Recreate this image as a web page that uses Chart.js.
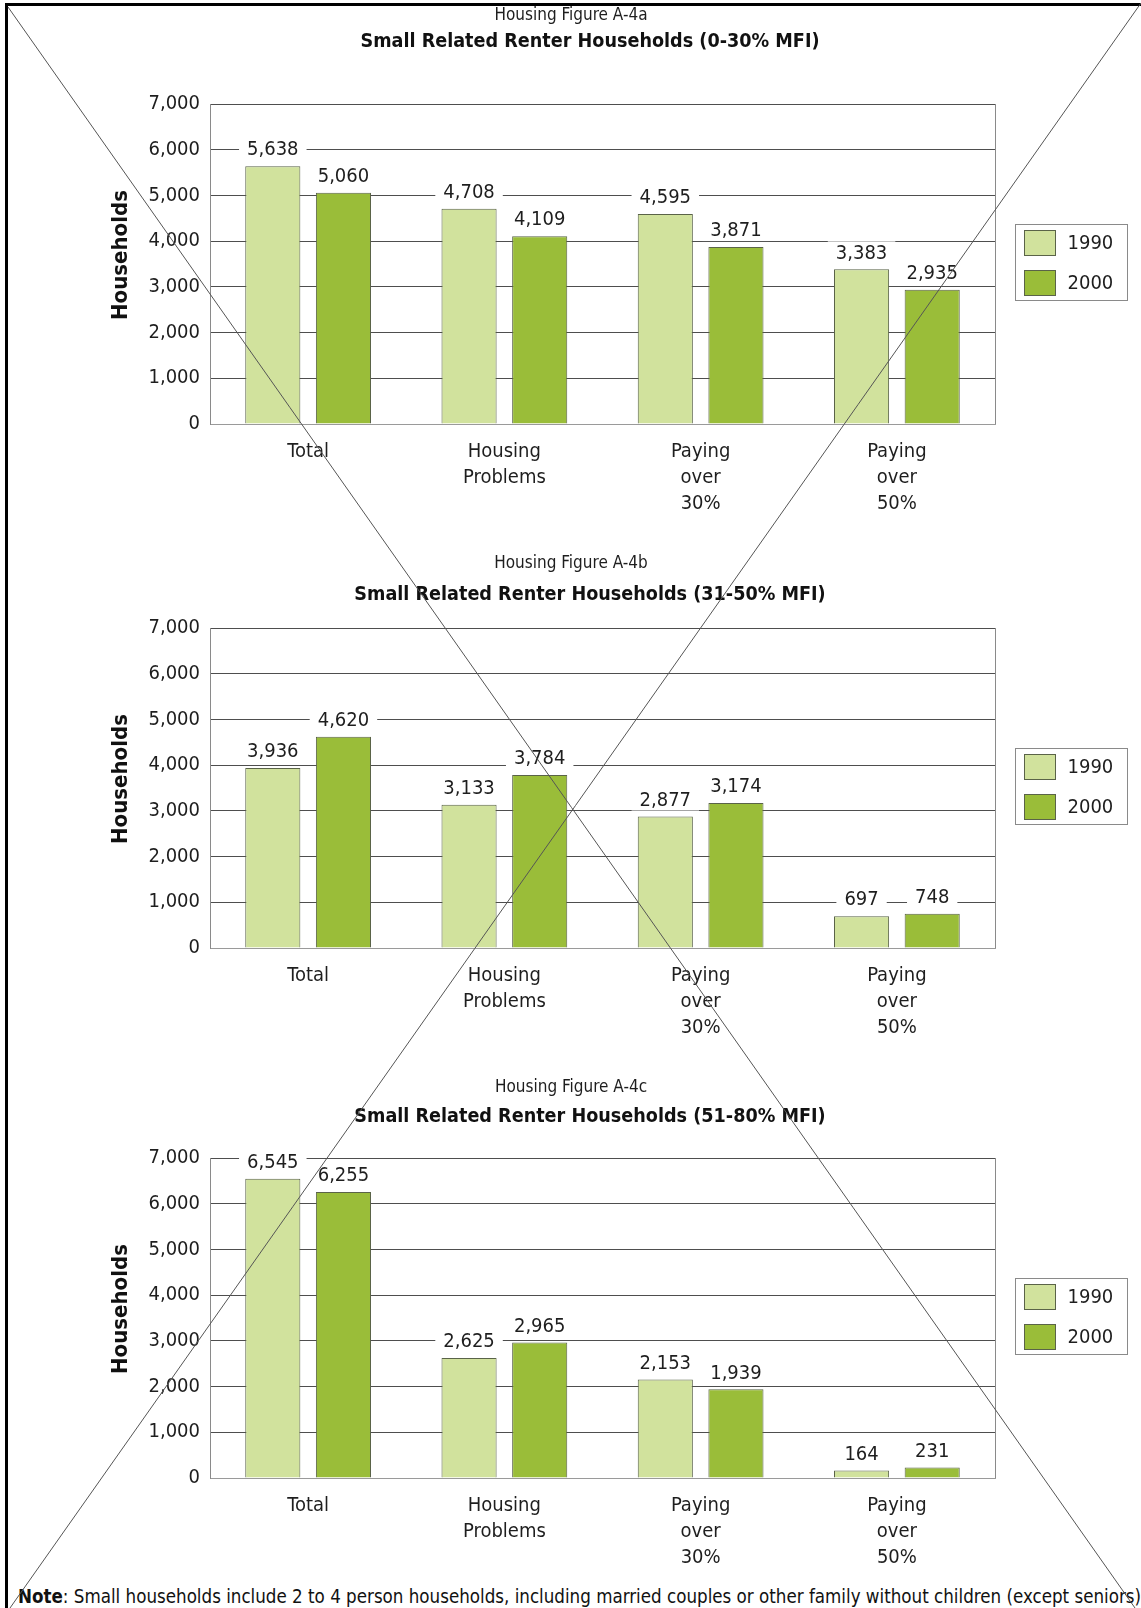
<!DOCTYPE html>
<html>
<head>
<meta charset="utf-8">
<script src="https://cdn.jsdelivr.net/npm/chart.js@4.4.1/dist/chart.umd.min.js"></script>
<style>
  html, body { margin: 0; padding: 0; background: #fff; }
  body { width: 1141px; height: 1608px; position: relative; overflow: hidden;
         font-family: 'DejaVu Sans Condensed', 'DejaVu Sans', sans-serif; }
  canvas.chart { position: absolute; left: 0; }
  #note { position: absolute; left: 18px; top: 1585px; font-size: 18.6px; color: #111; white-space: nowrap; line-height: 24px; }
  #overlay { position: absolute; left: 0; top: 0; pointer-events: none; }
</style>
</head>
<body>
<canvas class="chart" id="chartA" width="1141" height="524" style="top:0px"></canvas>
<canvas class="chart" id="chartB" width="1141" height="524" style="top:524px"></canvas>
<canvas class="chart" id="chartC" width="1141" height="524" style="top:1054px"></canvas>
<div id="note"><b>Note</b>: Small households include 2 to 4 person households, including married couples or other family without children (except seniors)</div>
<canvas id="overlay" width="1141" height="1608"></canvas>
<script>
// ---- data ----
const categories = [['Total'], ['Housing', 'Problems'], ['Paying', 'over', '30%'], ['Paying', 'over', '50%']];
const seriesNames = ['1990', '2000'];

const figureNames = ['Housing Figure A-4a', 'Housing Figure A-4b', 'Housing Figure A-4c'];
const chartTitles = [
  'Small Related Renter Households (0-30% MFI)',
  'Small Related Renter Households (31-50% MFI)',
  'Small Related Renter Households (51-80% MFI)'
];

const incomeA1990 = [5638, 4708, 4595, 3383];
const incomeA2000 = [5060, 4109, 3871, 2935];
const incomeB1990 = [3936, 3133, 2877, 697];
const incomeB2000 = [4620, 3784, 3174, 748];
const incomeC1990 = [6545, 2625, 2153, 164];
const incomeC2000 = [6255, 2965, 1939, 231];

const yMin = 0, yMax = 7000, yStep = 1000;
const yAxisTitle = 'Households';

// ---- styling ----
const FONT = "'DejaVu Sans Condensed', 'DejaVu Sans', sans-serif";
const TEXT = '#1e1e1e';
const LIGHT = '#d1e29d';
const DARK = '#9abd39';
const BAR_EDGE = '#5a6348';
const GRID = '#4e4e4e';
const FRAME = '#8a8a8a';
const BASE = '#9a9a9a';

// vertical centres of the two heading lines in each chart canvas
const headingY = [[16, 42], [40, 71], [34, 63]];
const headingX = [571, 590];

Chart.defaults.font.family = FONT;
Chart.defaults.color = TEXT;

// two-line heading: figure number, then the bold chart title
const headings = {
  id: 'headings',
  afterDraw(chart, args, opts) {
    const ctx = chart.ctx;
    ctx.save();
    ctx.textAlign = 'center';
    ctx.textBaseline = 'middle';
    ctx.fillStyle = TEXT;
    ctx.font = '17px ' + FONT;
    ctx.fillText(opts.figure, headingX[0], opts.y[0]);
    ctx.fillStyle = '#111';
    ctx.font = 'bold 19.6px ' + FONT;
    ctx.fillText(opts.title, headingX[1], opts.y[1]);
    // rotated axis title, a little above the middle of the plot
    const a = chart.chartArea;
    ctx.translate(121, (a.top + a.bottom) / 2 - 9);
    ctx.rotate(-Math.PI / 2);
    ctx.font = 'bold 22px ' + FONT;
    ctx.fillText(yAxisTitle, 0, 0);
    ctx.restore();
  }
};

// value labels sitting on a white patch above each bar
const valueLabels = {
  id: 'valueLabels',
  afterDatasetsDraw(chart) {
    const ctx = chart.ctx;
    ctx.save();
    ctx.font = '20px ' + FONT;
    ctx.textAlign = 'center';
    ctx.textBaseline = 'middle';
    chart.data.datasets.forEach((ds, i) => {
      chart.getDatasetMeta(i).data.forEach((bar, j) => {
        const txt = ds.data[j].toLocaleString('en-US');
        const w = ctx.measureText(txt).width;
        const cy = bar.y - 17;
        ctx.fillStyle = '#fff';
        ctx.fillRect(bar.x - w / 2 - 8, cy - 11, w + 16, 22);
        ctx.fillStyle = TEXT;
        ctx.fillText(txt, bar.x, cy + 1);
      });
    });
    ctx.restore();
  }
};

// right edge of the plot frame
const plotFrame = {
  id: 'plotFrame',
  beforeDatasetsDraw(chart) {
    const { ctx, chartArea: a } = chart;
    ctx.save();
    ctx.strokeStyle = FRAME;
    ctx.lineWidth = 1;
    ctx.beginPath();
    ctx.moveTo(Math.round(a.right) + 0.5, a.top);
    ctx.lineTo(Math.round(a.right) + 0.5, a.bottom);
    ctx.stroke();
    ctx.restore();
  }
};

// boxed legend to the right of the plot
const boxLegend = {
  id: 'boxLegend',
  afterDraw(chart) {
    const { ctx, chartArea: a } = chart;
    const bx = Math.round(a.right) + 20.5, bw = 112, bh = 76;
    const by = Math.round((a.top + a.bottom) / 2 - bh / 2) - 1.5;
    ctx.save();
    ctx.fillStyle = '#fff';
    ctx.fillRect(bx, by, bw, bh);
    ctx.strokeStyle = FRAME;
    ctx.lineWidth = 1;
    ctx.strokeRect(bx, by, bw, bh);
    ctx.font = '20px ' + FONT;
    ctx.textBaseline = 'middle';
    ctx.textAlign = 'left';
    chart.data.datasets.forEach((ds, i) => {
      const sy = by + 6 + i * 40;
      ctx.fillStyle = ds.backgroundColor;
      ctx.fillRect(bx + 9, sy, 31, 25);
      ctx.strokeStyle = BAR_EDGE;
      ctx.strokeRect(bx + 9, sy, 31, 25);
      ctx.fillStyle = TEXT;
      ctx.fillText(ds.label, bx + 52, sy + 13);
    });
    ctx.restore();
  }
};

function makeChart(id, idx, v1990, v2000) {
  return new Chart(document.getElementById(id), {
    type: 'bar',
    data: {
      labels: categories,
      datasets: [
        { label: seriesNames[0], data: v1990, backgroundColor: LIGHT, borderColor: BAR_EDGE, borderWidth: 1 },
        { label: seriesNames[1], data: v2000, backgroundColor: DARK, borderColor: BAR_EDGE, borderWidth: 1 }
      ]
    },
    options: {
      responsive: false,
      animation: false,
      events: [],
      categoryPercentage: 0.72,
      barPercentage: 0.78,
      layout: { padding: { left: 0, right: 146, top: 104, bottom: 0 } },
      plugins: {
        legend: { display: false },
        tooltip: { enabled: false },
        headings: { figure: figureNames[idx], title: chartTitles[idx], y: headingY[idx] }
      },
      scales: {
        x: {
          grid: { display: false, drawTicks: false },
          border: { display: true, color: BASE },
          ticks: { font: { size: 20, lineHeight: 1.3 }, color: TEXT, padding: 15, maxRotation: 0 },
          afterFit(scale) { scale.height = 100; }
        },
        y: {
          min: yMin, max: yMax,
          grid: { color: c => (c.tick && c.tick.value === 0 ? BASE : GRID), drawTicks: false },
          border: { display: true, color: FRAME },
          ticks: {
            stepSize: yStep, padding: 10, font: { size: 20 }, color: TEXT,
            callback: v => v.toLocaleString('en-US')
          },
          afterFit(scale) { scale.width = 210; }
        }
      }
    },
    plugins: [plotFrame, valueLabels, boxLegend, headings]
  });
}

makeChart('chartA', 0, incomeA1990, incomeA2000);
makeChart('chartB', 1, incomeB1990, incomeB2000);
makeChart('chartC', 2, incomeC1990, incomeC2000);

// page frame and the two diagonal strokes across the sheet
(function () {
  const ctx = document.getElementById('overlay').getContext('2d');
  ctx.fillStyle = '#000';
  ctx.fillRect(5, 3, 3, 1608);
  ctx.fillRect(5, 3, 1141, 3);
  ctx.strokeStyle = '#555';
  ctx.lineWidth = 1;
  ctx.beginPath();
  ctx.moveTo(8, 7);
  ctx.lineTo(1135, 1608);
  ctx.moveTo(10, 1608);
  ctx.lineTo(1141, 3);
  ctx.stroke();
})();
</script>
</body>
</html>
